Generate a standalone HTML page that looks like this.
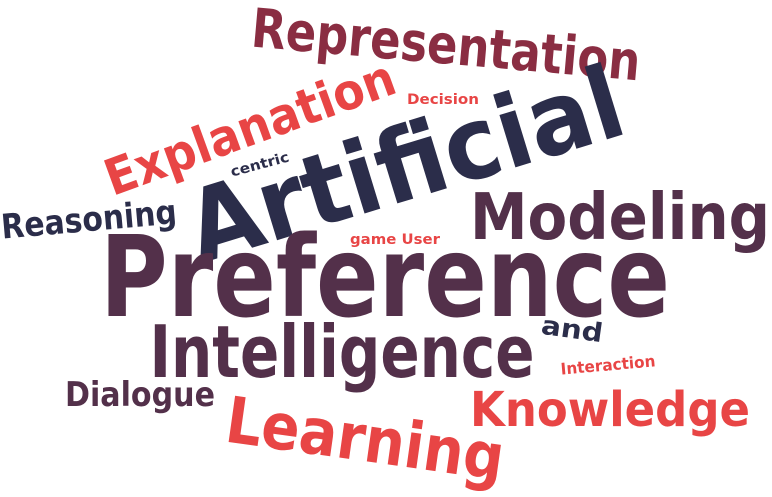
<!DOCTYPE html>
<html><head><meta charset="utf-8"><style>
html,body{margin:0;padding:0;background:#fff;}
svg{display:block;}
text{font-family:"DejaVu Sans","Liberation Sans",sans-serif;font-weight:bold;text-anchor:middle;dominant-baseline:central;}
</style></head><body>
<svg width="772" height="497" viewBox="0 0 772 497">
<g lengthAdjust="spacingAndGlyphs">
<text x="0" y="0" font-size="54" fill="#8a2d42" textLength="390" lengthAdjust="spacingAndGlyphs" transform="translate(446,45) rotate(5)">Representation</text>
<text x="0" y="0" font-size="14" fill="#e84545" textLength="72" lengthAdjust="spacingAndGlyphs" transform="translate(443,100)">Decision</text>
<text x="0" y="0" font-size="50" fill="#e84545" textLength="305" lengthAdjust="spacingAndGlyphs" transform="translate(250,128) rotate(-20)">Explanation</text>
<text x="0" y="0" font-size="14" fill="#2b2d4a" textLength="60" lengthAdjust="spacingAndGlyphs" transform="translate(260,165) rotate(-15)">centric</text>
<text x="0" y="0" font-size="100" fill="#2b2d4a" textLength="450" lengthAdjust="spacingAndGlyphs" transform="translate(405,165) rotate(-17)">Artificial</text>
<text x="0" y="0" font-size="34" fill="#2b2d4a" textLength="176" lengthAdjust="spacingAndGlyphs" transform="translate(89,220) rotate(-5)">Reasoning</text>
<text x="0" y="0" font-size="64" fill="#53304a" textLength="300" lengthAdjust="spacingAndGlyphs" transform="translate(620,218)">Modeling</text>
<text x="0" y="0" font-size="14" fill="#e84545" textLength="90" lengthAdjust="spacingAndGlyphs" transform="translate(395,240)">game User</text>
<text x="0" y="0" font-size="112" fill="#53304a" textLength="570" lengthAdjust="spacingAndGlyphs" transform="translate(385,278)">Preference</text>
<text x="0" y="0" font-size="26" fill="#2b2d4a" textLength="62" lengthAdjust="spacingAndGlyphs" transform="translate(572,330) rotate(8)">and</text>
<text x="0" y="0" font-size="72" fill="#53304a" textLength="385" lengthAdjust="spacingAndGlyphs" transform="translate(342,352)">Intelligence</text>
<text x="0" y="0" font-size="16" fill="#e84545" textLength="95" lengthAdjust="spacingAndGlyphs" transform="translate(608,365) rotate(-5)">Interaction</text>
<text x="0" y="0" font-size="34" fill="#53304a" textLength="150" lengthAdjust="spacingAndGlyphs" transform="translate(140,395)">Dialogue</text>
<text x="0" y="0" font-size="48" fill="#e84545" textLength="280" lengthAdjust="spacingAndGlyphs" transform="translate(610,410)">Knowledge</text>
<text x="0" y="0" font-size="64" fill="#e84545" textLength="280" lengthAdjust="spacingAndGlyphs" transform="translate(365,440) rotate(8)">Learning</text>
</g>
</svg>
</body></html>
